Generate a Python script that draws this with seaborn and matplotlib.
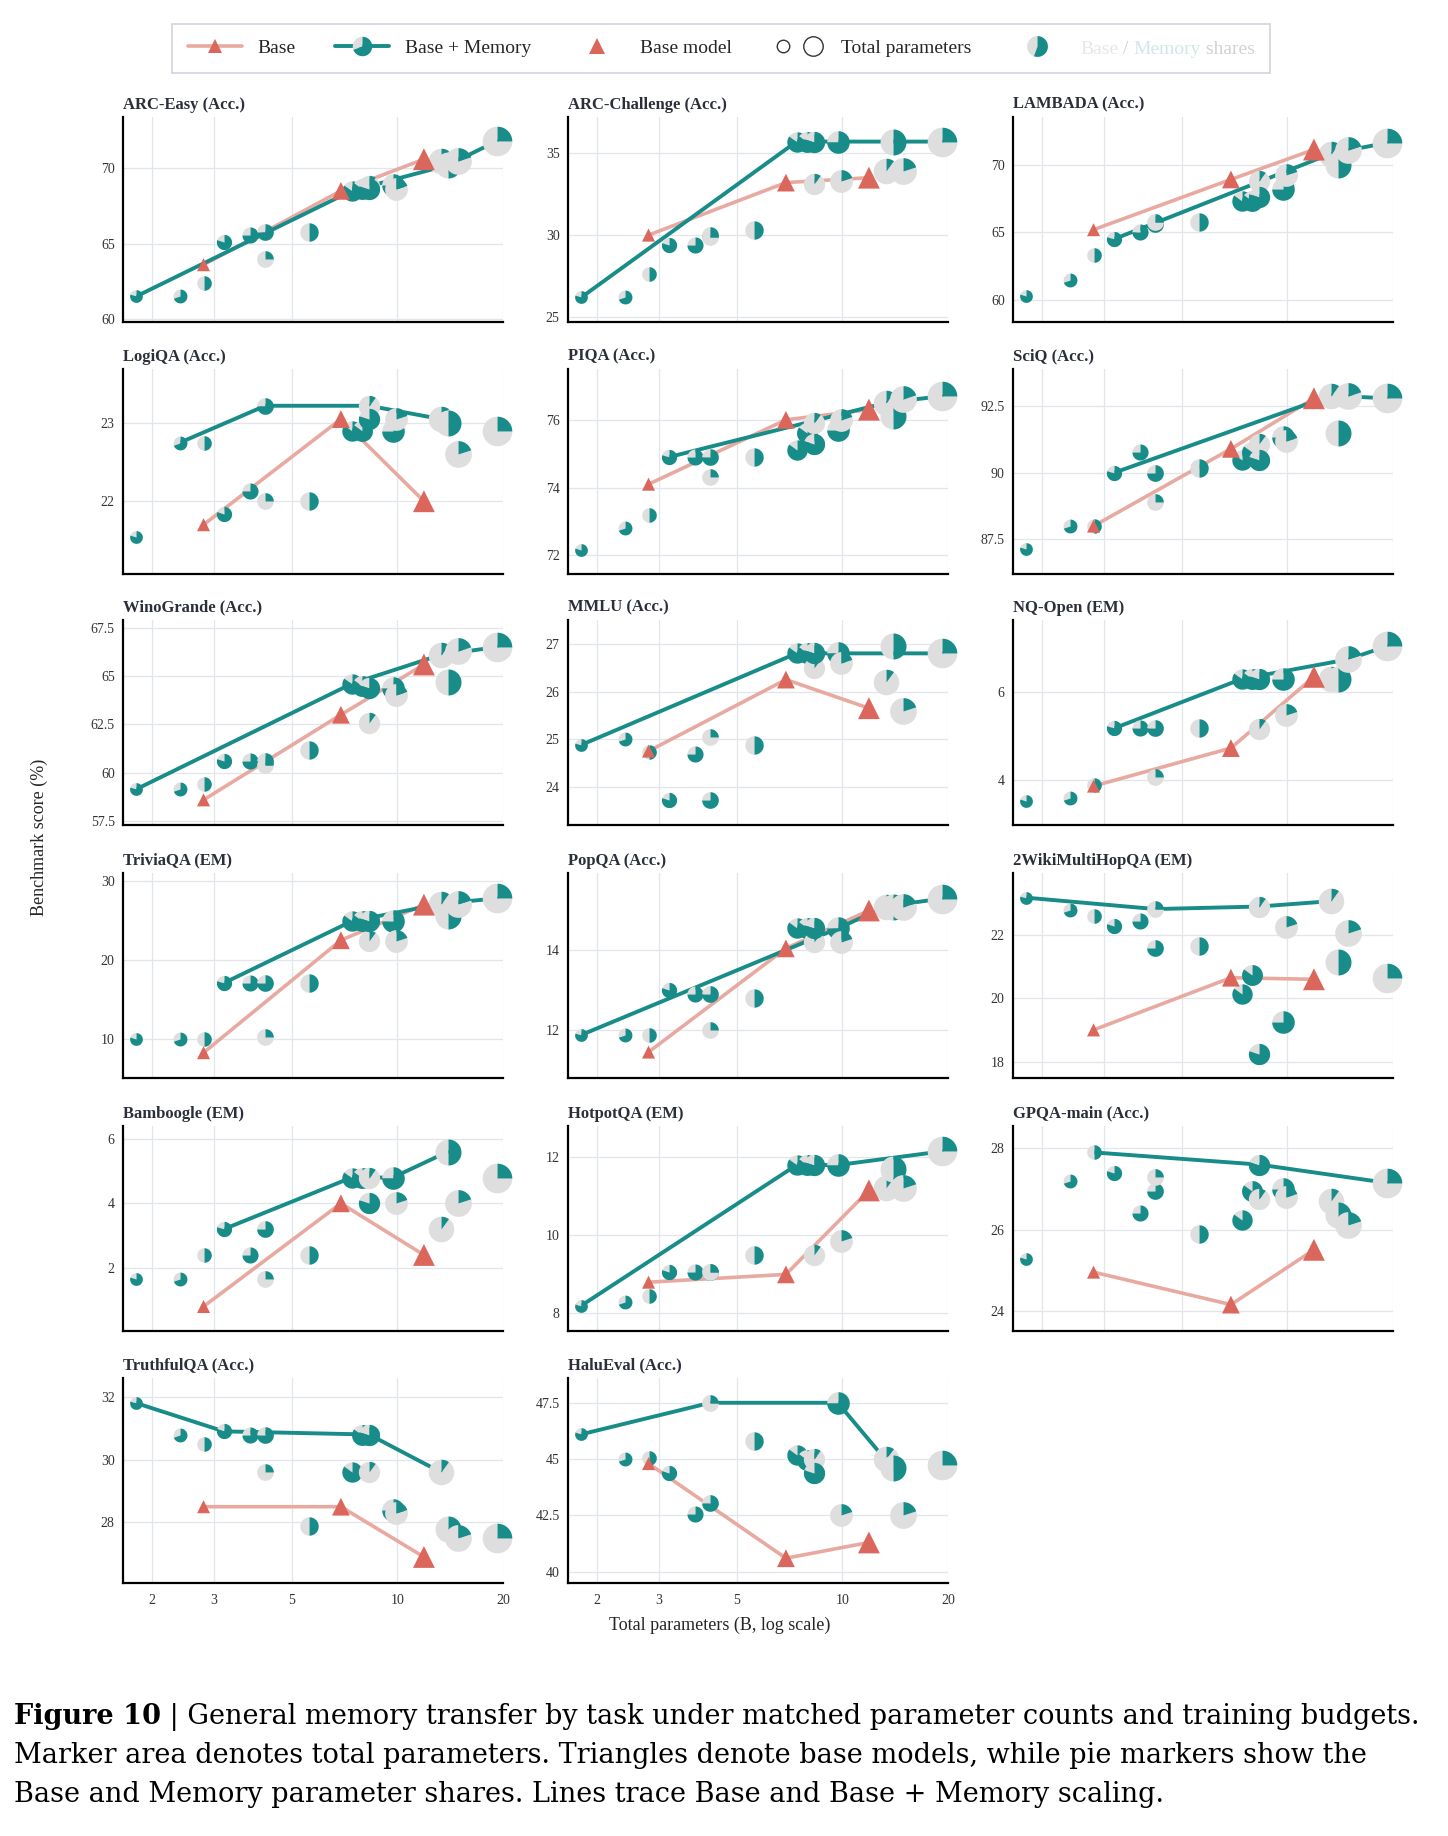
import numpy as np
import matplotlib
matplotlib.use("Agg")
import matplotlib.pyplot as plt
from matplotlib.path import Path
from matplotlib.lines import Line2D
from matplotlib.legend_handler import HandlerTuple
import seaborn as sns
import pandas as pd

sns.set_theme(style="white")
plt.rcParams['font.family'] = ['Liberation Serif', 'DejaVu Serif']

TEAL = "#178C88"
PINK_LINE = "#E8A9A1"
RED = "#DB665B"
GREY = "#DEDEDE"

# ---------------- data ----------------
mem_params = [1.8, 2.4, 2.8, 3.2, 3.8, 4.2, 4.2, 5.6, 7.4, 7.9, 8.3, 8.3, 9.7, 9.9, 13.3, 13.9, 14.9, 19.2]
mem_share = [0.8, 0.7, 0.5, 0.8, 0.75, 0.75, 0.25, 0.5, 0.85, 0.85, 0.1, 0.8, 0.75, 0.2, 0.1, 0.5, 0.2, 0.25]
base_params = [2.8, 6.9, 11.9]

titles = ["ARC-Easy (Acc.)", "ARC-Challenge (Acc.)", "LAMBADA (Acc.)", "LogiQA (Acc.)", "PIQA (Acc.)",
          "SciQ (Acc.)", "WinoGrande (Acc.)", "MMLU (Acc.)", "NQ-Open (EM)", "TriviaQA (EM)", "PopQA (Acc.)",
          "2WikiMultiHopQA (EM)", "Bamboogle (EM)", "HotpotQA (EM)", "GPQA-main (Acc.)", "TruthfulQA (Acc.)",
          "HaluEval (Acc.)"]

arc_easy_mem = [61.5, 61.5, 62.4, 65.1, 65.6, 65.8, 64.0, 65.8, 68.5, 68.6, 68.8, 68.6, 68.9, 68.6, 70.5, 70.2, 70.5, 71.8]
arc_easy_base = [63.6, 68.5, 70.6]
arc_easy_line = [0, 8, 15, 17]

arc_ch_mem = [26.2, 26.2, 27.6, 29.4, 29.4, 30.0, 29.9, 30.3, 35.7, 35.7, 33.1, 35.7, 35.7, 33.3, 33.9, 35.7, 33.9, 35.7]
arc_ch_base = [30.0, 33.2, 33.5]
arc_ch_line = [0, 8, 17]

lambada_mem = [60.3, 61.5, 63.3, 64.5, 65.0, 65.6, 65.8, 65.8, 67.3, 67.3, 68.8, 67.6, 68.2, 69.2, 70.8, 70.0, 71.1, 71.6]
lambada_base = [65.2, 68.9, 71.1]
lambada_line = [3, 14, 17]

logiqa_mem = [21.54, 22.75, 22.75, 21.84, 22.13, 23.22, 22.0, 22.0, 22.9, 22.9, 23.22, 23.05, 22.9, 23.05, 23.05, 23.0, 22.6, 22.9]
logiqa_base = [21.7, 23.05, 22.0]
logiqa_line = [1, 5, 10, 14]

piqa_mem = [72.17, 72.8, 73.2, 74.9, 74.9, 74.9, 74.3, 74.9, 75.1, 75.6, 75.9, 75.3, 75.7, 76.0, 76.5, 76.1, 76.6, 76.7]
piqa_base = [74.1, 76.0, 76.3]
piqa_line = [3, 14, 17]

sciq_mem = [87.15, 88.0, 88.0, 90.0, 90.8, 90.0, 88.9, 90.2, 90.5, 90.8, 91.1, 90.5, 91.35, 91.2, 92.9, 91.5, 92.9, 92.8]
sciq_base = [88.0, 90.9, 92.8]
sciq_line = [3, 14, 17]

wino_mem = [59.15, 59.15, 59.4, 60.6, 60.6, 60.6, 60.4, 61.2, 64.6, 64.5, 62.6, 64.4, 64.4, 64.0, 66.1, 64.7, 66.3, 66.5]
wino_base = [58.6, 63.0, 65.6]
wino_line = [0, 8, 14, 17]

mmlu_mem = [24.88, 25.0, 24.73, 23.73, 24.68, 23.73, 25.05, 24.88, 26.8, 26.8, 26.5, 26.8, 26.8, 26.6, 26.2, 26.95, 25.6, 26.8]
mmlu_base = [24.75, 26.25, 25.65]
mmlu_line = [0, 8, 17]

nq_mem = [3.52, 3.57, 3.87, 5.17, 5.17, 5.17, 4.05, 5.17, 6.3, 6.3, 5.15, 6.3, 6.3, 5.47, 6.3, 6.3, 6.75, 7.05]
nq_base = [3.85, 4.72, 6.35]
nq_line = [3, 8, 16, 17]

trivia_mem = [10.0, 10.0, 10.0, 17.1, 17.1, 17.1, 10.3, 17.1, 24.9, 24.9, 22.4, 24.9, 24.9, 22.4, 27.1, 25.6, 27.1, 27.8]
trivia_base = [8.3, 22.5, 27.0]
trivia_line = [3, 8, 14, 17]

popqa_mem = [11.88, 11.88, 11.88, 13.0, 12.9, 12.9, 12.0, 12.8, 14.55, 14.55, 14.2, 14.55, 14.55, 14.2, 15.1, 15.1, 15.1, 15.3]
popqa_base = [11.45, 14.05, 15.0]
popqa_line = [0, 12, 14, 17]

wiki_mem = [23.18, 22.8, 22.6, 22.3, 22.45, 21.6, 22.82, 21.66, 20.13, 20.74, 22.9, 18.24, 19.24, 22.24, 23.07, 21.14, 22.05, 20.63]
wiki_base = [19.0, 20.65, 20.6]
wiki_line = [0, 6, 10, 14]

bamboo_mem = [1.64, 1.64, 2.4, 3.2, 2.4, 3.2, 1.64, 2.4, 4.8, 4.8, 4.8, 4.0, 4.8, 4.0, 3.2, 5.6, 4.0, 4.8]
bamboo_base = [0.8, 4.0, 2.4]
bamboo_line = [3, 8, 12, 15]

hotpot_mem = [8.2, 8.3, 8.45, 9.05, 9.05, 9.05, 9.05, 9.5, 11.8, 11.8, 9.5, 11.8, 11.8, 9.85, 11.2, 11.7, 11.2, 12.15]
hotpot_base = [8.8, 9.0, 11.15]
hotpot_line = [0, 8, 12, 17]

gpqa_mem = [25.27, 27.2, 27.9, 27.4, 26.4, 26.95, 27.3, 25.9, 26.23, 26.95, 26.75, 27.6, 27.0, 26.8, 26.7, 26.35, 26.1, 27.15]
gpqa_base = [24.95, 24.15, 25.5]
gpqa_line = [2, 11, 17]

truthful_mem = [31.8, 30.8, 30.5, 30.9, 30.8, 30.8, 29.6, 27.9, 29.6, 30.8, 29.6, 30.8, 28.4, 28.3, 29.6, 27.8, 27.5, 27.5]
truthful_base = [28.5, 28.5, 26.9]
truthful_line = [0, 3, 11, 14]

halu_mem = [46.1, 45.0, 45.05, 44.4, 42.55, 43.05, 47.5, 45.8, 45.2, 44.95, 45.0, 44.4, 47.5, 42.5, 45.0, 44.6, 42.5, 44.75]
halu_base = [44.8, 40.6, 41.3]
halu_line = [0, 6, 12, 15]

x_ticks = [2, 3, 5, 10, 20]

panels = [
    (arc_easy_mem, arc_easy_base, arc_easy_line, (59.8, 73.4), [60, 65, 70]),
    (arc_ch_mem, arc_ch_base, arc_ch_line, (24.7, 37.2), [25, 30, 35]),
    (lambada_mem, lambada_base, lambada_line, (58.4, 73.5), [60, 65, 70]),
    (logiqa_mem, logiqa_base, logiqa_line, (21.07, 23.69), [22, 23]),
    (piqa_mem, piqa_base, piqa_line, (71.45, 77.5), [72, 74, 76]),
    (sciq_mem, sciq_base, sciq_line, (86.2, 93.9), [87.5, 90, 92.5]),
    (wino_mem, wino_base, wino_line, (57.3, 67.9), [57.5, 60, 62.5, 65, 67.5]),
    (mmlu_mem, mmlu_base, mmlu_line, (23.2, 27.5), [24, 25, 26, 27]),
    (nq_mem, nq_base, nq_line, (2.96, 7.65), [4, 6]),
    (trivia_mem, trivia_base, trivia_line, (5.1, 31.0), [10, 20, 30]),
    (popqa_mem, popqa_base, popqa_line, (10.8, 15.94), [12, 14]),
    (wiki_mem, wiki_base, wiki_line, (17.48, 23.96), [18, 20, 22]),
    (bamboo_mem, bamboo_base, bamboo_line, (0.04, 6.4), [2, 4, 6]),
    (hotpot_mem, hotpot_base, hotpot_line, (7.55, 12.8), [8, 10, 12]),
    (gpqa_mem, gpqa_base, gpqa_line, (23.5, 28.55), [24, 26, 28]),
    (truthful_mem, truthful_base, truthful_line, (26.07, 32.6), [28, 30, 32]),
    (halu_mem, halu_base, halu_line, (39.5, 48.6), [40, 42.5, 45, 47.5]),
]


# ---------------- helpers ----------------
def wedge(a0, a1):
    """Wedge path (degrees) with padding points so markers share one scale."""
    n = max(int(abs(a1 - a0) / 4) + 2, 3)
    t = np.radians(np.linspace(a0, a1, n))
    verts = [(1, 1), (-1, -1), (0, 0)] + list(zip(np.cos(t), np.sin(t))) + [(0, 0)]
    codes = [Path.MOVETO, Path.MOVETO, Path.MOVETO] + [Path.LINETO] * n + [Path.CLOSEPOLY]
    return Path(verts, codes)


def diam(p):
    return 4.0 * np.sqrt(p) + 3.8  # points


def draw_pie(ax, x, y, teal_frac, size_pt, z=3):
    fb = 1 - teal_frac
    ax.scatter([x], [y], marker=wedge(90, 90 + 360 * fb), s=size_pt ** 2, color=GREY, linewidths=0,
               zorder=z, clip_on=False)
    ax.scatter([x], [y], marker=wedge(90 + 360 * fb, 450), s=size_pt ** 2, color=TEAL, linewidths=0,
               zorder=z, clip_on=False)


W, H = 1448, 1836
fig = plt.figure(figsize=(W / 100, H / 100), dpi=100)
col_left = [123, 568, 1013]
row_top = [117, 369, 620, 873, 1126, 1378]
aw, ah = 380, 205

for i, (mem, base, line_idx, ylim, yt) in enumerate(panels):
    r, c = divmod(i, 3)
    ax = fig.add_axes([col_left[c] / W, 1 - (row_top[r] + ah) / H, aw / W, ah / H])
    ax.set_xscale("log")
    ax.set_xlim(1.65, 20)
    ax.set_ylim(*ylim)
    ax.set_xticks(x_ticks)
    ax.minorticks_off()
    ax.set_yticks(yt)
    ax.set_yticklabels([f"{v:g}" for v in yt], fontsize=10, color="#333333")
    if i in (15, 16):
        ax.set_xticklabels([str(v) for v in x_ticks], fontsize=10, color="#333333")
    else:
        ax.set_xticklabels([])
    ax.grid(True, color="#e1e5ec", lw=0.9)
    for s in ("top", "right"):
        ax.spines[s].set_visible(False)
    for s in ("left", "bottom"):
        ax.spines[s].set_color("black")
        ax.spines[s].set_linewidth(1.6)
    ax.tick_params(axis="both", which="both", length=5, width=1.2, color="black", direction="out", pad=3)
    ax.tick_params(axis="y", length=3)
    ax.set_title(titles[i], loc="left", fontsize=12, fontweight="bold", color="#2a2f3a", pad=6)

    df_b = pd.DataFrame({"x": base_params, "y": base})
    sns.lineplot(data=df_b, x="x", y="y", ax=ax, color=PINK_LINE, lw=2.6, zorder=2, legend=False)
    df_m = pd.DataFrame({"x": [mem_params[k] for k in line_idx], "y": [mem[k] for k in line_idx]})
    sns.lineplot(data=df_m, x="x", y="y", ax=ax, color=TEAL, lw=2.8, zorder=2.5, legend=False)
    for k in range(len(mem)):
        draw_pie(ax, mem_params[k], mem[k], mem_share[k], diam(mem_params[k]))
    df_t = pd.DataFrame({"x": base_params, "y": base, "s": [diam(p) ** 2 * 0.8 for p in base_params]})
    ax.scatter(df_t.x, df_t.y, marker="^", s=df_t.s, color=RED, linewidths=0, zorder=4, clip_on=False)
    ax.set_xlabel("")
    ax.set_ylabel("")

# ---------------- legend ----------------
h_base = Line2D([], [], color=PINK_LINE, lw=2.6, marker="^", markerfacecolor=RED, markeredgewidth=0, markersize=10)
h_mline = Line2D([], [], color=TEAL, lw=2.8)
h_mp1 = Line2D([], [], ls="", marker=wedge(90, 200), markerfacecolor=GREY, markeredgewidth=0, markersize=14)
h_mp2 = Line2D([], [], ls="", marker=wedge(200, 450), markerfacecolor=TEAL, markeredgewidth=0, markersize=14)
h_tri = Line2D([], [], ls="", marker="^", color=RED, markeredgewidth=0, markersize=11)
h_tot = Line2D([], [], ls="", marker="o", markerfacecolor="white", markeredgecolor="#333333", markeredgewidth=1.0, markersize=9)
h_tot2 = Line2D([], [], ls="", marker="o", markerfacecolor="white", markeredgecolor="#333333", markeredgewidth=1.0, markersize=14)
h_pie = Line2D([], [], ls="", marker=wedge(90, 250), markerfacecolor=GREY, markeredgewidth=0, markersize=15)
h_pie2 = Line2D([], [], ls="", marker=wedge(250, 450), markerfacecolor=TEAL, markeredgewidth=0, markersize=15)


class HandlerOverlay(HandlerTuple):
    def __init__(self):
        super().__init__(ndivide=1, pad=0)


leg = fig.legend([h_base, (h_mline, h_mp1, h_mp2), h_tri, (h_tot, h_tot2), (h_pie, h_pie2)],
                 ["Base", "Base + Memory", "Base model", "Total parameters", "Base / Memory shares"],
                 handler_map={(h_mline, h_mp1, h_mp2): HandlerTuple(ndivide=1, pad=0),
                              (h_tot, h_tot2): HandlerTuple(ndivide=None, pad=0.3),
                              (h_pie, h_pie2): HandlerTuple(ndivide=1, pad=0)},
                 loc="center", bbox_to_anchor=(0.498, 0.9736), ncol=5, frameon=True, fontsize=14,
                 handlelength=2.8, columnspacing=2.0, borderpad=0.8, handletextpad=0.8)
leg.get_frame().set_edgecolor("#c5cad3")
leg.get_frame().set_linewidth(1.2)
leg.get_frame().set_boxstyle("square", pad=0)

fig.canvas.draw()
renderer = fig.canvas.get_renderer()
inv = fig.transFigure.inverted()


def chain_text(x_px, y_px, pieces, fs, **kw):
    for s, col, wt in pieces:
        t = fig.text(*inv.transform((x_px, y_px)), s, color=col, fontsize=fs, fontweight=wt,
                     ha="left", va="baseline", **kw)
        bb = t.get_window_extent(renderer)
        x_px = bb.x1


lt = leg.get_texts()[4]
bb = lt.get_window_extent(renderer)
# baseline position of the legend text
lt.set_alpha(0)
lt_x, lt_y = bb.x0, bb.y0 + lt.get_window_extent(renderer).height * 0.22
chain_text(lt_x, lt_y, [("Base", "#8a8a8a", "normal"), (" / ", "#222222", "normal"),
                        ("Memory", TEAL, "normal"), (" shares", "#222222", "normal")], 14)

fig.text(39 / W, 1 - 837 / H, "Benchmark score (%)", rotation=90, ha="center", va="center", fontsize=13)
fig.text(720 / W, 1 - 1625 / H, "Total parameters (B, log scale)", ha="center", va="center", fontsize=13)

CAPF = ['DejaVu Serif']
cap_fs = 19.5
chain_text(14, H - 1724, [("Figure 10", "black", "bold"),
                          (" | General memory transfer by task under matched parameter counts and training budgets.",
                           "black", "normal")], cap_fs, family=CAPF)
chain_text(14, H - 1763, [("Marker area denotes total parameters. Triangles denote base models, while pie markers show the",
                           "black", "normal")], cap_fs, family=CAPF)
chain_text(14, H - 1802, [("Base and Memory parameter shares. Lines trace Base and Base + Memory scaling.",
                           "black", "normal")], cap_fs, family=CAPF)

fig.savefig("out.png", dpi=100)
